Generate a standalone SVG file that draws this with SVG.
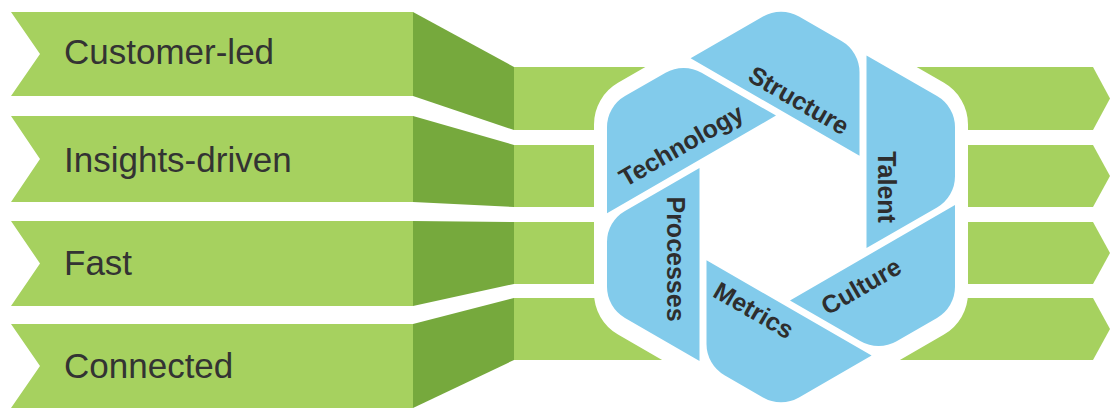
<svg xmlns="http://www.w3.org/2000/svg" width="1110" height="409" viewBox="0 0 1110 409">
  <style>
    .light { fill: #a6d15f; }
    .fold { fill: #76a93d; }
    .blade { fill: #82cbeb; }
    .hexbg { fill: #ffffff; }
    .label { font-family: "Liberation Sans", Arial, sans-serif; font-size: 35px; fill: #333333; }
    .blabel { font-family: "Liberation Sans", Arial, sans-serif; font-size: 25px; font-weight: bold; fill: #2e2e2e; text-anchor: middle; dominant-baseline: central; }
  </style>

  <!-- ribbons: folds and strips running from each banner behind the hexagon -->
  <g id="connectors">
    <polygon class="fold" points="413,12 514,67 514,130 413,96"/>
    <polygon class="fold" points="413,116 514,145 514,207 413,202"/>
    <polygon class="fold" points="413,221 514,222 514,284 413,306"/>
    <polygon class="fold" points="413,324 514,298 514,360 413,408"/>
    <polygon class="light" points="514,67 1093,67 1110,98.5 1093,130 514,130"/>
    <polygon class="light" points="514,145 1093,145 1110,176 1093,207 514,207"/>
    <polygon class="light" points="514,222 1093,222 1110,253 1093,284 514,284"/>
    <polygon class="light" points="514,298 1093,298 1110,329 1093,360 514,360"/>
  </g>

  <!-- banners -->
  <g id="customer-led">
    <path class="light" d="M11,12 L413,12 L413,96 L11,96 L40,54 Z"/>
    <text class="label" x="64" y="64">Customer-led</text>
  </g>
  <g id="insights-driven">
    <path class="light" d="M11,116 L413,116 L413,202 L11,202 L40,159 Z"/>
    <text class="label" x="64" y="171.5">Insights-driven</text>
  </g>
  <g id="fast">
    <path class="light" d="M11,221 L413,221 L413,306 L11,306 L40,263.5 Z"/>
    <text class="label" x="64" y="275">Fast</text>
  </g>
  <g id="connected">
    <path class="light" d="M11,324 L413,324 L413,408 L11,408 L40,366 Z"/>
    <text class="label" x="64" y="378">Connected</text>
  </g>

  <!-- white surround of the hexagon -->
  <path id="hex-surround" class="hexbg" d="M805,2.65 L944,82.85 A48,48 0 0 1 968,124.4 L968,293 A48,48 0 0 1 944,334.55 L805,414.85 A48,48 0 0 1 757,414.85 L618,334.55 A48,48 0 0 1 594,293 L594,124.4 A48,48 0 0 1 618,82.85 L757,2.65 A48,48 0 0 1 805,2.65 Z"/>

  <!-- hexagon blades -->
  <g id="structure">
    <path class="blade" d="M690.6,58.3 L763,16.5 A36,36 0 0 1 799,16.5 L841.5,41 A36,36 0 0 1 859.5,72.2 L859.5,155.7 Z"/>
    <text class="blabel" transform="translate(799,100) rotate(30)">Structure</text>
  </g>
  <g id="talent">
    <path class="blade" d="M866.5,55.5 L937,96.1 A36,36 0 0 1 955,127.3 L955,176.2 A36,36 0 0 1 937,207.4 L866.5,248.1 Z"/>
    <text class="blabel" transform="translate(887,187) rotate(90)">Talent</text>
  </g>
  <g id="culture">
    <path class="blade" d="M955,205.1 L955,286.7 A36,36 0 0 1 937,317.9 L896.6,341.2 A36,36 0 0 1 860.6,341.2 L790,300.4 Z"/>
    <text class="blabel" transform="translate(861,286) rotate(-30)">Culture</text>
  </g>
  <g id="metrics">
    <path class="blade" d="M871.6,355.6 L799,397.5 A36,36 0 0 1 763,397.5 L724.5,375.3 A36,36 0 0 1 706.5,344.1 L706.5,260.3 Z"/>
    <text class="blabel" transform="translate(754,310) rotate(30)">Metrics</text>
  </g>
  <g id="processes">
    <path class="blade" d="M699.5,360.9 L625,317.9 A36,36 0 0 1 607,286.7 L607,242.1 A36,36 0 0 1 625,210.9 L699.5,167.9 Z"/>
    <text class="blabel" transform="translate(676,259) rotate(90)">Processes</text>
  </g>
  <g id="technology">
    <path class="blade" d="M607,213.2 L607,127.3 A36,36 0 0 1 625,96.1 L665.6,72.7 A36,36 0 0 1 701.6,72.7 L776,115.6 Z"/>
    <text class="blabel" transform="translate(681,145) rotate(-30)">Technology</text>
  </g>
</svg>
